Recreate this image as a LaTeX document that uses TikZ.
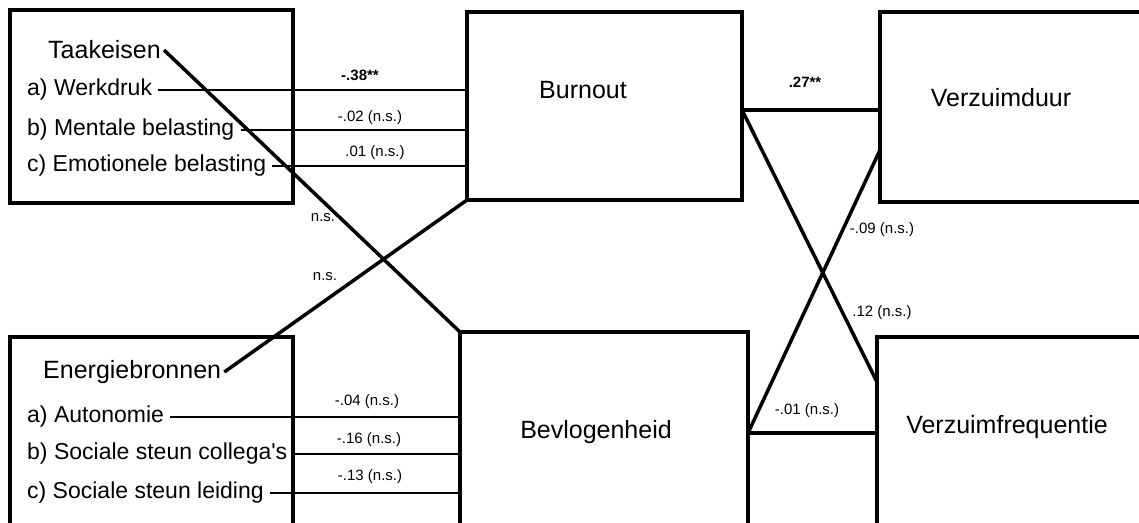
\documentclass[tikz,border=0pt]{standalone}
\usepackage{fontspec}
\setmainfont{Liberation Sans}
\usetikzlibrary{calc}

\begin{document}
\begin{tikzpicture}[
  x=1pt, y=-1pt,
  box/.style={draw, line width=4.5pt, outer sep=0pt, inner sep=0pt, anchor=north west},
  head/.style={font=\fontsize{25}{30}\selectfont, inner sep=3pt},
  item/.style={font=\fontsize{23}{27}\selectfont, anchor=west, inner xsep=6pt, inner ysep=1pt},
  coef/.style={font=\fontsize{15}{17}\selectfont, inner sep=1pt},
  link/.style={line width=1.2pt},
  path/.style={line width=3.5pt},
]
\useasboundingbox (0,0) rectangle (1139,522);
\clip (0,0) rectangle (1139,522);
% Boxes
\node[box, minimum width=283pt, minimum height=193pt] (taak) at (10,10) {};
\node[box, minimum width=275pt, minimum height=188pt] (burn) at (467,12) {};
\node[box, minimum width=300pt, minimum height=190pt] (duur) at (880,12) {};
\node[box, minimum width=283pt, minimum height=243pt] (ener) at (10,337) {};
\node[box, minimum width=288pt, minimum height=248pt] (bevl) at (460,332) {};
\node[box, minimum width=303pt, minimum height=243pt] (freq) at (877,337) {};
% Headings
\node[head, anchor=west] (taakeisen) at (45,50) {Taakeisen};
\node[head, anchor=west] (energie) at (40,372) {Energiebronnen};
\node[head] (burnout) at (583,90) {Burnout};
\node[head] (bevlogen) at (596,432) {Bevlogenheid};
\node[head] (verzduur) at (1001,98) {Verzuimduur};
\node[head] (verzfreq) at (1007,427) {Verzuimfrequentie};
% Items with their paths
\foreach \y/\name/\txt/\target in {
  90/werk/a) Werkdruk/burn,
  130/ment/b) Mentale belasting/burn,
  166/emo/c) Emotionele belasting/burn,
  417/auto/a) Autonomie/bevl,
  454/coll/b) Sociale steun collega\textquotesingle s/bevl,
  493/leid/c) Sociale steun leiding/bevl%
}{
  \node[item] (\name) at (21,\y) {\txt};
  \draw[link] (\name.east) -- (\name.east -| \target.west);
}
% Crossing paths
\draw[path] (taakeisen.east) -- (bevl.north west);
\draw[path] (burn.south west) -- (energie.east);
% Right-hand paths
\coordinate (bo) at (burn.east |- 0,110);
\coordinate (dd) at (duur.west |- 0,110);
\coordinate (d2) at (duur.west |- 0,150);
\coordinate (f1) at (freq.west |- 0,382);
\coordinate (bv) at (bevl.east |- 0,433);
\coordinate (f2) at (freq.west |- 0,433);
\draw[path] (bo) -- (dd);
\draw[path] (bo) -- (f1);
\draw[path] (bv) -- (d2);
\draw[path] (bv) -- (f2);
% Coefficients
\node[coef, font=\fontsize{15}{17}\selectfont\bfseries] (c1) at (360,75) {-.38**};
\node[coef] (c2) at (370,118) {-.02 (n.s.)};
\node[coef] (c3) at (375,153) {.01 (n.s.)};
\node[coef] (c4) at (323,218) {n.s.};
\node[coef] (c5) at (325,277) {n.s.};
\node[coef] (c6) at (367,402) {-.04 (n.s.)};
\node[coef] (c7) at (369,440) {-.16 (n.s.)};
\node[coef] (c8) at (370,477) {-.13 (n.s.)};
\node[coef, font=\fontsize{15}{17}\selectfont\bfseries] (c9) at (805,82) {.27**};
\node[coef] (c10) at (882,230) {-.09 (n.s.)};
\node[coef] (c11) at (882,313) {.12 (n.s.)};
\node[coef] (c12) at (807,411) {-.01 (n.s.)};
\end{tikzpicture}
\end{document}
